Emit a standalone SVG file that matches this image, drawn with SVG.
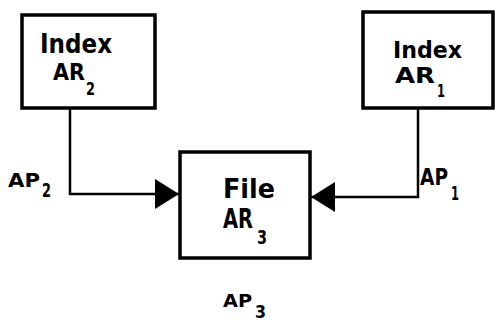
<svg xmlns="http://www.w3.org/2000/svg" width="495" height="325" viewBox="0 0 495 325">
<defs>
<style>
.box{fill:#fff;stroke:#000;stroke-width:3.5}
.ln{fill:none;stroke:#000;stroke-width:2.5}
.t{font-family:"DejaVu Sans Condensed","DejaVu Sans",sans-serif;font-weight:bold;fill:#000}
</style>
<marker id="ah" markerWidth="24" markerHeight="30" refX="24" refY="15" orient="auto" markerUnits="userSpaceOnUse">
<path d="M0,0 L24,15 L0,30 Z" fill="#000"/>
</marker>
</defs>
<rect width="495" height="325" fill="#fff"/>
<g id="connectors">
<path class="ln" d="M70,108 V194 H179" marker-end="url(#ah)"/>
<path class="ln" d="M418,108 V197 H311" marker-end="url(#ah)"/>
</g>
<g id="index2">
<rect class="box" x="22" y="15" width="133" height="93"/>
<text class="t" x="40" y="53" font-size="27" textLength="72" lengthAdjust="spacingAndGlyphs">Index</text>
<text class="t" font-size="23"><tspan x="53" y="80" textLength="32" lengthAdjust="spacingAndGlyphs">AR</tspan><tspan x="86" y="95" font-size="17" textLength="9" lengthAdjust="spacingAndGlyphs">2</tspan></text>
</g>
<g id="index1">
<rect class="box" x="363" y="12" width="130" height="96"/>
<text class="t" x="393" y="58" font-size="23" textLength="69" lengthAdjust="spacingAndGlyphs">Index</text>
<text class="t" font-size="21"><tspan x="395" y="83" textLength="40" lengthAdjust="spacingAndGlyphs">AR</tspan><tspan x="437" y="97" font-size="17" textLength="8" lengthAdjust="spacingAndGlyphs">1</tspan></text>
</g>
<g id="file3">
<rect class="box" x="180" y="152" width="130" height="106"/>
<text class="t" x="223" y="198" font-size="26" textLength="52" lengthAdjust="spacingAndGlyphs">File</text>
<text class="t" font-size="26"><tspan x="223" y="228" textLength="30" lengthAdjust="spacingAndGlyphs">AR</tspan><tspan x="257" y="244" font-size="20" textLength="10" lengthAdjust="spacingAndGlyphs">3</tspan></text>
</g>
<text class="t" font-size="19"><tspan x="8" y="187" textLength="32" lengthAdjust="spacingAndGlyphs">AP</tspan><tspan x="42" y="197" textLength="9" lengthAdjust="spacingAndGlyphs">2</tspan></text>
<text class="t" font-size="23"><tspan x="420" y="185" textLength="28" lengthAdjust="spacingAndGlyphs">AP</tspan><tspan x="451" y="200" font-size="20" textLength="8" lengthAdjust="spacingAndGlyphs">1</tspan></text>
<text class="t" font-size="18"><tspan x="223" y="307" textLength="29" lengthAdjust="spacingAndGlyphs">AP</tspan><tspan x="255" y="318" textLength="11" lengthAdjust="spacingAndGlyphs">3</tspan></text>
</svg>
